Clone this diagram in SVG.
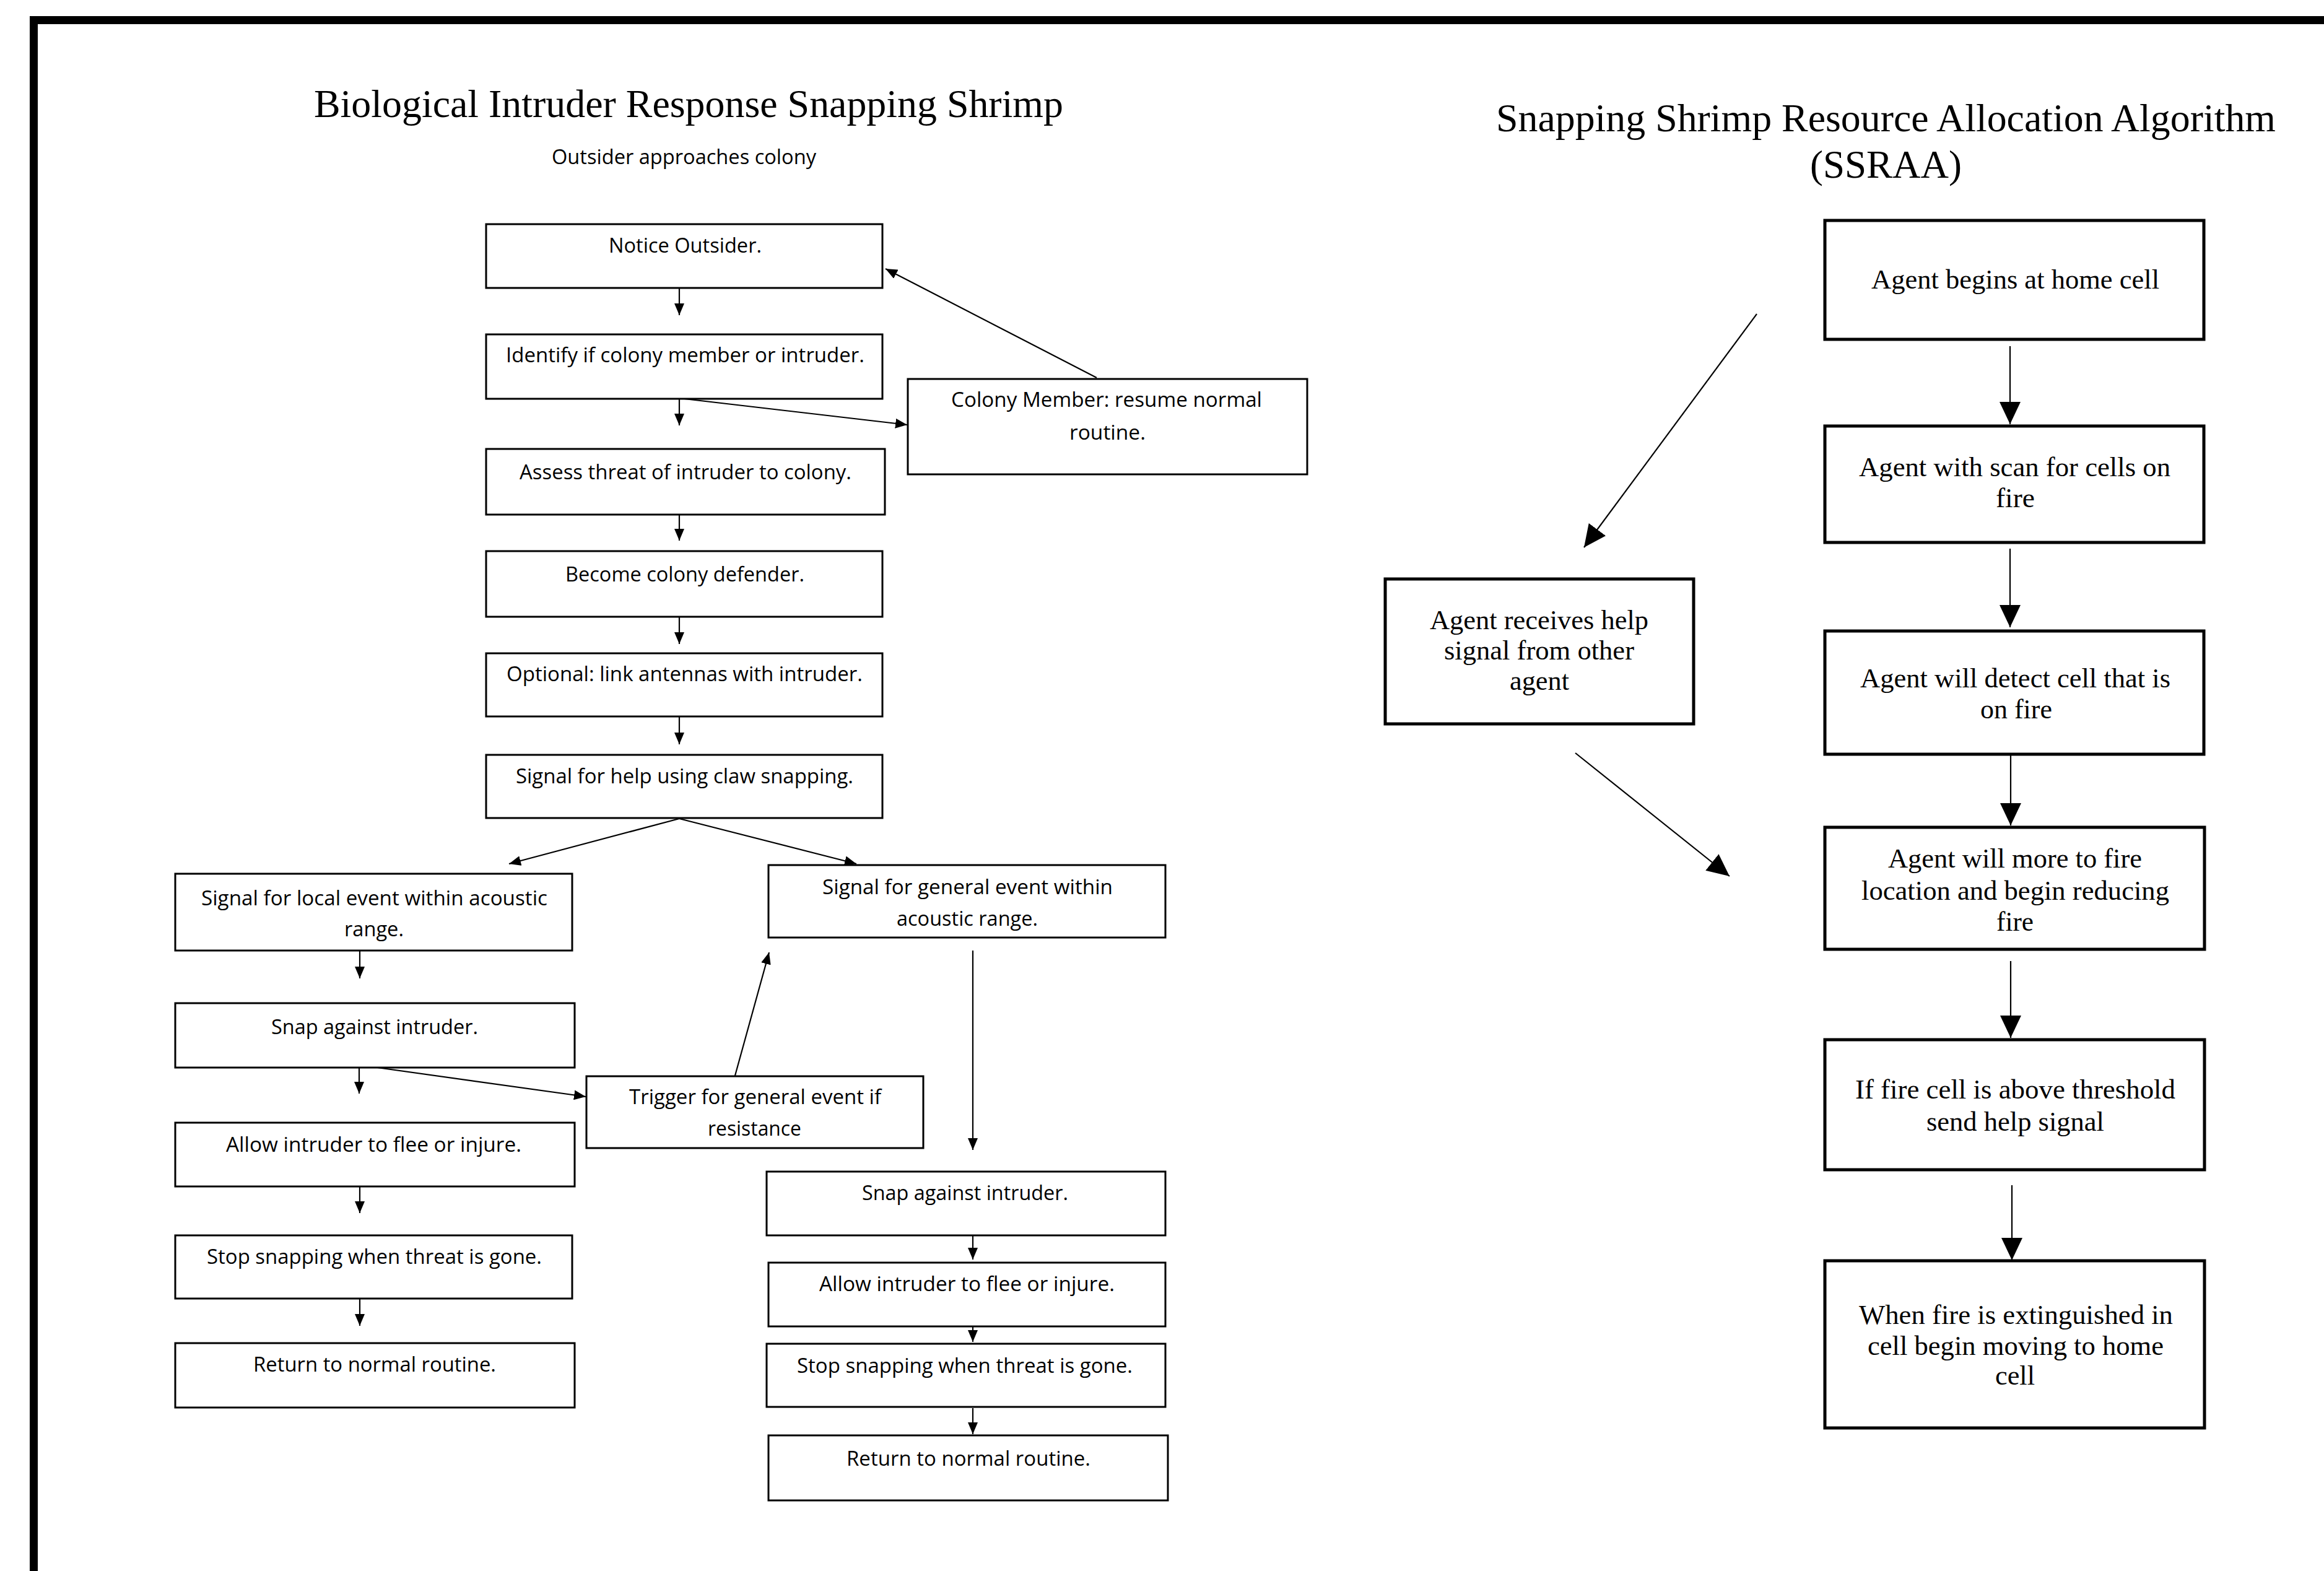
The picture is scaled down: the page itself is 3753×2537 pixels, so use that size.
<svg xmlns="http://www.w3.org/2000/svg" width="3753" height="2537" viewBox="0 0 3753 2537">
<style>
.bx{fill:#fff;stroke:#000;stroke-width:3}
.rb{fill:#fff;stroke:#000;stroke-width:5}
.t{font-family:"Open Sans","Liberation Sans",sans-serif;font-size:32.5px;fill:#000}
.s{font-family:"Liberation Serif","Times New Roman",serif;font-size:44px;fill:#000}
.h{font-family:"Liberation Serif","Times New Roman",serif;font-size:64px;fill:#000}
.c{fill:none;stroke:#000;stroke-width:2.2}
.cl{marker-end:url(#sa)}
.cr{marker-end:url(#la)}
</style>
<defs>
<marker id="sa" markerUnits="userSpaceOnUse" markerWidth="19" markerHeight="16" viewBox="0 0 19 16" refX="19" refY="8" orient="auto"><path d="M0,0 L19,8 L0,16 z" fill="#000"/></marker>
<marker id="la" markerUnits="userSpaceOnUse" markerWidth="36" markerHeight="34" viewBox="0 0 36 34" refX="36" refY="17" orient="auto"><path d="M0,0 L36,17 L0,34 z" fill="#000"/></marker>
</defs>
<rect width="3753" height="2537" fill="#fff"/>
<path d="M54.5 2537 V32.5 H3753" fill="none" stroke="#000" stroke-width="13" stroke-linejoin="miter"/>

<g id="titles">
<text class="h" x="507" y="189" textLength="1210" lengthAdjust="spacingAndGlyphs">Biological Intruder Response Snapping Shrimp</text>
<text class="t" x="891" y="265" textLength="427" lengthAdjust="spacingAndGlyphs">Outsider approaches colony</text>
<text class="h" x="2416" y="212" textLength="1259" lengthAdjust="spacingAndGlyphs">Snapping Shrimp Resource Allocation Algorithm</text>
<text class="h" x="2923" y="287" textLength="245" lengthAdjust="spacingAndGlyphs">(SSRAA)</text>
</g>

<g id="connectors">
<line class="c cl" x1="1097" y1="465" x2="1097" y2="509"/>
<line class="c cl" x1="1097" y1="644" x2="1097" y2="687"/>
<line class="c cl" x1="1097" y1="831" x2="1097" y2="873"/>
<line class="c cl" x1="1097" y1="996" x2="1097" y2="1040"/>
<line class="c cl" x1="1097" y1="1157" x2="1097" y2="1202"/>
<line class="c cl" x1="1105" y1="644" x2="1465" y2="686"/>
<line class="c cl" x1="1771" y1="610" x2="1430" y2="434"/>
<line class="c cl" x1="1097" y1="1322" x2="822" y2="1395"/>
<line class="c cl" x1="1097" y1="1322" x2="1383" y2="1395"/>
<line class="c cl" x1="581" y1="1535" x2="581" y2="1580"/>
<line class="c cl" x1="580" y1="1719" x2="580" y2="1766"/>
<line class="c cl" x1="581" y1="1720" x2="946" y2="1771"/>
<line class="c cl" x1="1187" y1="1737" x2="1242" y2="1538"/>
<line class="c cl" x1="581" y1="1916" x2="581" y2="1959"/>
<line class="c cl" x1="581" y1="2097" x2="581" y2="2141"/>
<line class="c cl" x1="1571" y1="1535" x2="1571" y2="1857"/>
<line class="c cl" x1="1571" y1="1992" x2="1571" y2="2034"/>
<line class="c cl" x1="1571" y1="2124" x2="1571" y2="2167"/>
<line class="c cl" x1="1571" y1="2274" x2="1571" y2="2316"/>
<line class="c cr" x1="3246" y1="559" x2="3246" y2="685"/>
<line class="c cr" x1="3246" y1="886" x2="3246" y2="1013"/>
<line class="c cr" x1="3247" y1="1214" x2="3247" y2="1333"/>
<line class="c cr" x1="3247" y1="1552" x2="3247" y2="1676"/>
<line class="c cr" x1="3249" y1="1914" x2="3249" y2="2035"/>
<line class="c cr" x1="2837" y1="507" x2="2558" y2="884"/>
<line class="c cr" x1="2544" y1="1216" x2="2793" y2="1415"/>
</g>

<g id="n-notice"><rect class="bx" x="785" y="362" width="640" height="103"/>
<text class="t" x="983" y="408" textLength="247" lengthAdjust="spacingAndGlyphs">Notice Outsider.</text></g>
<g id="n-identify"><rect class="bx" x="785" y="540" width="640" height="104"/>
<text class="t" x="817" y="585" textLength="579" lengthAdjust="spacingAndGlyphs">Identify if colony member or intruder.</text></g>
<g id="n-colony"><rect class="bx" x="1466" y="612" width="645" height="154"/>
<text class="t" x="1536" y="657" textLength="502" lengthAdjust="spacingAndGlyphs">Colony Member: resume normal</text>
<text class="t" x="1727" y="710" textLength="123" lengthAdjust="spacingAndGlyphs">routine.</text></g>
<g id="n-assess"><rect class="bx" x="785" y="725" width="644" height="106"/>
<text class="t" x="839" y="774" textLength="536" lengthAdjust="spacingAndGlyphs">Assess threat of intruder to colony.</text></g>
<g id="n-defender"><rect class="bx" x="785" y="890" width="640" height="106"/>
<text class="t" x="913" y="939" textLength="386" lengthAdjust="spacingAndGlyphs">Become colony defender.</text></g>
<g id="n-optional"><rect class="bx" x="785" y="1055" width="640" height="102"/>
<text class="t" x="818" y="1100" textLength="575" lengthAdjust="spacingAndGlyphs">Optional: link antennas with intruder.</text></g>
<g id="n-signal"><rect class="bx" x="785" y="1219" width="640" height="102"/>
<text class="t" x="833" y="1265" textLength="545" lengthAdjust="spacingAndGlyphs">Signal for help using claw snapping.</text></g>

<g id="n-local"><rect class="bx" x="283" y="1411" width="641" height="124"/>
<text class="t" x="325" y="1462" textLength="559" lengthAdjust="spacingAndGlyphs">Signal for local event within acoustic</text>
<text class="t" x="556" y="1512" textLength="96" lengthAdjust="spacingAndGlyphs">range.</text></g>
<g id="n-snapL"><rect class="bx" x="283" y="1620" width="645" height="104"/>
<text class="t" x="438" y="1670" textLength="334" lengthAdjust="spacingAndGlyphs">Snap against intruder.</text></g>
<g id="n-allowL"><rect class="bx" x="283" y="1813" width="645" height="103"/>
<text class="t" x="365" y="1860" textLength="477" lengthAdjust="spacingAndGlyphs">Allow intruder to flee or injure.</text></g>
<g id="n-stopL"><rect class="bx" x="283" y="1995" width="641" height="102"/>
<text class="t" x="334" y="2041" textLength="541" lengthAdjust="spacingAndGlyphs">Stop snapping when threat is gone.</text></g>
<g id="n-returnL"><rect class="bx" x="283" y="2169" width="645" height="104"/>
<text class="t" x="409" y="2215" textLength="392" lengthAdjust="spacingAndGlyphs">Return to normal routine.</text></g>

<g id="n-general"><rect class="bx" x="1241" y="1397" width="641" height="117"/>
<text class="t" x="1328" y="1444" textLength="469" lengthAdjust="spacingAndGlyphs">Signal for general event within</text>
<text class="t" x="1448" y="1495" textLength="228" lengthAdjust="spacingAndGlyphs">acoustic range.</text></g>
<g id="n-trigger"><rect class="bx" x="947" y="1738" width="544" height="116"/>
<text class="t" x="1016" y="1783" textLength="407" lengthAdjust="spacingAndGlyphs">Trigger for general event if</text>
<text class="t" x="1143" y="1834" textLength="151" lengthAdjust="spacingAndGlyphs">resistance</text></g>
<g id="n-snapR"><rect class="bx" x="1238" y="1892" width="644" height="103"/>
<text class="t" x="1392" y="1938" textLength="333" lengthAdjust="spacingAndGlyphs">Snap against intruder.</text></g>
<g id="n-allowR"><rect class="bx" x="1241" y="2039" width="641" height="103"/>
<text class="t" x="1323" y="2085" textLength="477" lengthAdjust="spacingAndGlyphs">Allow intruder to flee or injure.</text></g>
<g id="n-stopR"><rect class="bx" x="1238" y="2170" width="644" height="102"/>
<text class="t" x="1287" y="2217" textLength="542" lengthAdjust="spacingAndGlyphs">Stop snapping when threat is gone.</text></g>
<g id="n-returnR"><rect class="bx" x="1241" y="2318" width="645" height="105"/>
<text class="t" x="1367" y="2367" textLength="394" lengthAdjust="spacingAndGlyphs">Return to normal routine.</text></g>

<g id="r-begins"><rect class="rb" x="2947" y="356" width="612" height="192"/>
<text class="s" x="3022" y="466" textLength="465" lengthAdjust="spacingAndGlyphs">Agent begins at home cell</text></g>
<g id="r-scan"><rect class="rb" x="2947" y="688" width="612" height="188"/>
<text class="s" x="3002" y="769" textLength="503" lengthAdjust="spacingAndGlyphs">Agent with scan for cells on</text>
<text class="s" x="3223" y="819" textLength="63" lengthAdjust="spacingAndGlyphs">fire</text></g>
<g id="r-detect"><rect class="rb" x="2947" y="1019" width="612" height="199"/>
<text class="s" x="3004" y="1110" textLength="501" lengthAdjust="spacingAndGlyphs">Agent will detect cell that is</text>
<text class="s" x="3198" y="1160" textLength="116" lengthAdjust="spacingAndGlyphs">on fire</text></g>
<g id="r-move"><rect class="rb" x="2947" y="1336" width="613" height="197"/>
<text class="s" x="3049" y="1401" textLength="410" lengthAdjust="spacingAndGlyphs">Agent will more to fire</text>
<text class="s" x="3006" y="1453" textLength="497" lengthAdjust="spacingAndGlyphs">location and begin reducing</text>
<text class="s" x="3224" y="1503" textLength="60" lengthAdjust="spacingAndGlyphs">fire</text></g>
<g id="r-threshold"><rect class="rb" x="2947" y="1679" width="613" height="210"/>
<text class="s" x="2996" y="1774" textLength="517" lengthAdjust="spacingAndGlyphs">If fire cell is above threshold</text>
<text class="s" x="3111" y="1826" textLength="287" lengthAdjust="spacingAndGlyphs">send help signal</text></g>
<g id="r-home"><rect class="rb" x="2947" y="2036" width="613" height="270"/>
<text class="s" x="3002" y="2138" textLength="507" lengthAdjust="spacingAndGlyphs">When fire is extinguished in</text>
<text class="s" x="3016" y="2188" textLength="478" lengthAdjust="spacingAndGlyphs">cell begin moving to home</text>
<text class="s" x="3222" y="2236" textLength="64" lengthAdjust="spacingAndGlyphs">cell</text></g>
<g id="r-receives"><rect class="rb" x="2237" y="935" width="498" height="234"/>
<text class="s" x="2309" y="1016" textLength="353" lengthAdjust="spacingAndGlyphs">Agent receives help</text>
<text class="s" x="2332" y="1065" textLength="307" lengthAdjust="spacingAndGlyphs">signal from other</text>
<text class="s" x="2438" y="1114" textLength="96" lengthAdjust="spacingAndGlyphs">agent</text></g>
</svg>
